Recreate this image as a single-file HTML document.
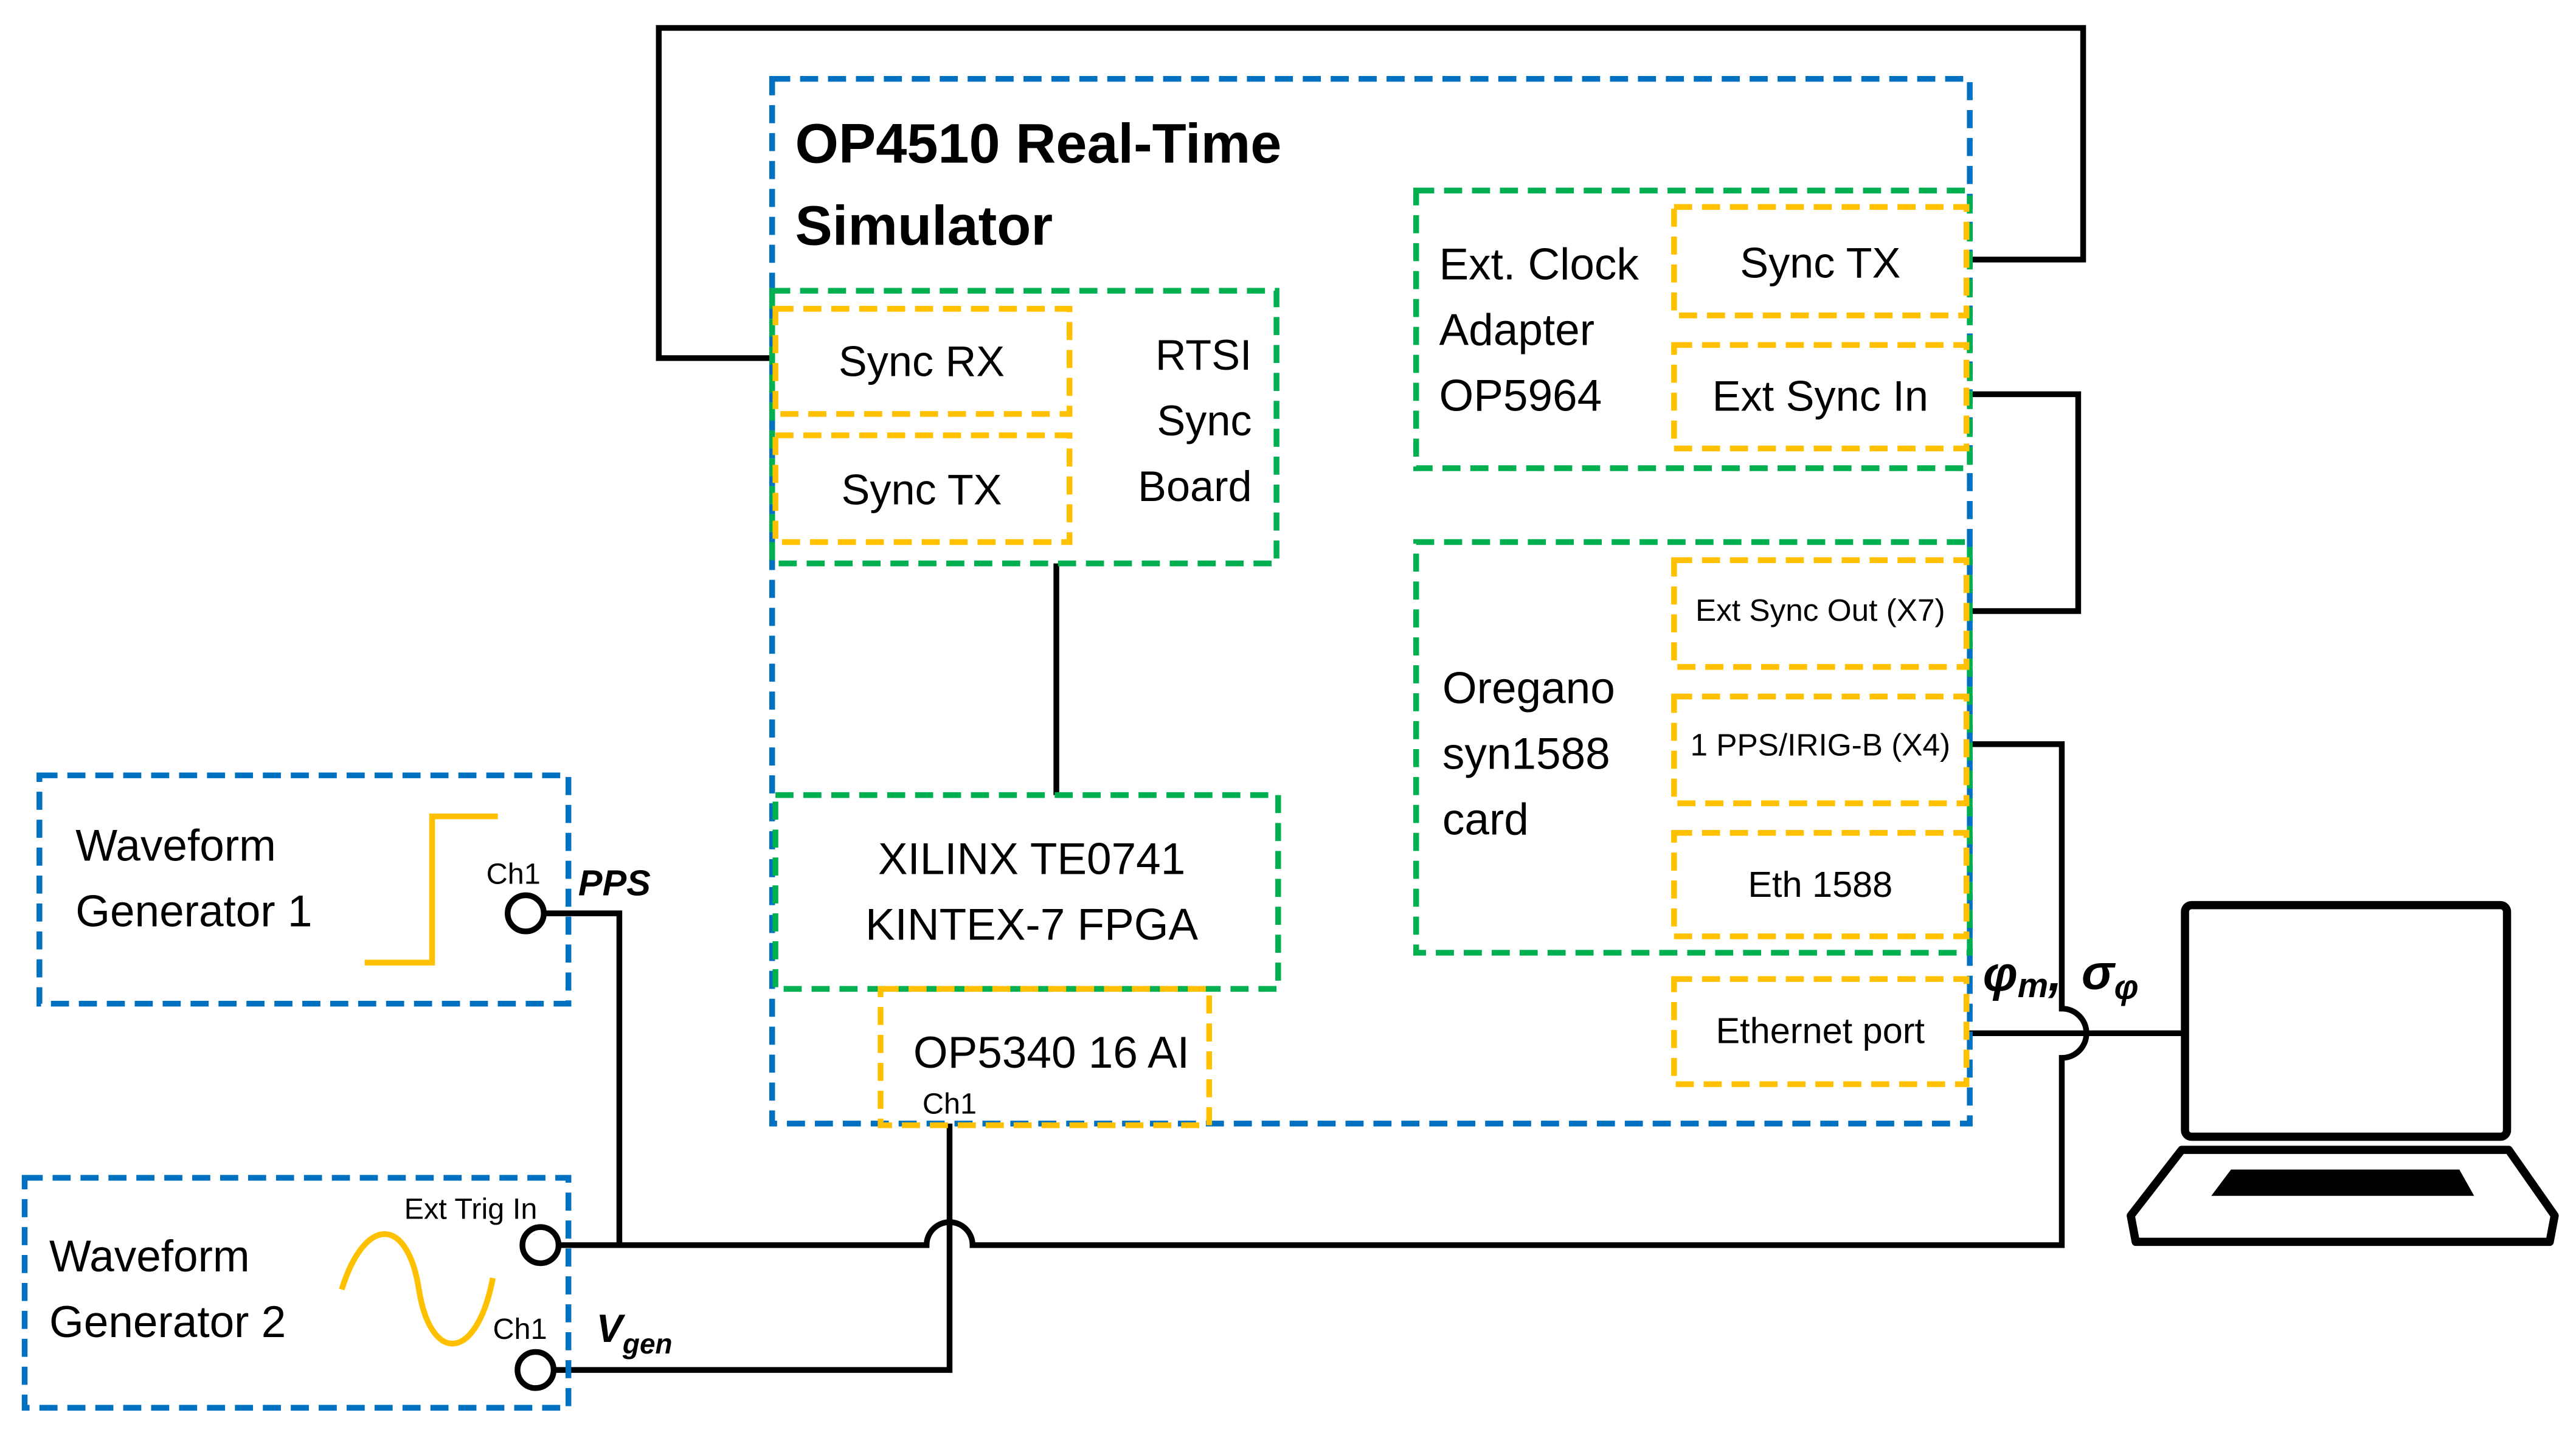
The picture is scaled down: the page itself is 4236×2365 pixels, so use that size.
<!DOCTYPE html>
<html><head><meta charset="utf-8"><style>
html,body{margin:0;padding:0;background:#fff;}
svg{display:block;}
text{font-family:"Liberation Sans",sans-serif;fill:#000;}
</style></head><body>
<svg width="4236" height="2365" viewBox="0 0 1568 875.4" preserveAspectRatio="none" xmlns="http://www.w3.org/2000/svg">
<rect width="1568" height="876" fill="#fff"/>
<g fill="none" stroke="#000" stroke-width="3.5">
<polyline points="470,218 401,218 401,17 1268,17 1268,158 1198,158"/>
<polyline points="1198,240 1265,240 1265,372 1198,372"/>
<line x1="643" y1="343" x2="643" y2="484"/>
<polyline points="320,556 377,556 377,758"/>
<path d="M340,758 L564,758 A14,14 0 0 1 592,758 L1255,758 L1255,644 A15,15 0 0 0 1255,614 L1255,453 L1198,453"/>
<polyline points="337,834 578,834 578,684"/>
<line x1="1198" y1="629" x2="1328" y2="629"/>
</g>
<g fill="none" stroke-width="3.5" stroke-dasharray="11,6">
<rect x="470" y="48" width="729" height="636" stroke="#0070C0"/>
<rect x="24" y="472" width="322" height="139" stroke="#0070C0"/>
<rect x="15" y="717" width="331" height="140" stroke="#0070C0"/>
<rect x="470" y="177" width="307" height="166" stroke="#00B050"/>
<rect x="472" y="484" width="306" height="118" stroke="#00B050"/>
<rect x="862" y="116" width="337" height="169" stroke="#00B050"/>
<rect x="862" y="330" width="337" height="250" stroke="#00B050"/>
<g stroke="#FFC000">
<rect x="472" y="188" width="179" height="64"/>
<rect x="472" y="265" width="179" height="65"/>
<rect x="536" y="602" width="200" height="83"/>
<rect x="1019" y="126" width="178" height="66"/>
<rect x="1019" y="210" width="178" height="63"/>
<rect x="1019" y="341" width="178" height="65"/>
<rect x="1019" y="424" width="178" height="65"/>
<rect x="1019" y="507" width="178" height="63"/>
<rect x="1019" y="596" width="178" height="64"/>
</g>
</g>
<g fill="none" stroke="#FFC000" stroke-width="3.5">
<polyline points="222,586 263,586 263,497 303,497"/>
<path d="M208,785 C222,740 248,740 255,785 C262,830 290,830 300,778"/>
</g>
<g fill="#fff" stroke="#000" stroke-width="3.5">
<circle cx="320" cy="556" r="11"/>
<circle cx="329" cy="758" r="11"/>
<circle cx="326" cy="834" r="11"/>
</g>
<g stroke="#000" stroke-width="5" fill="#fff" stroke-linejoin="round">
<rect x="1330" y="551" width="196" height="141" rx="4"/>
<path d="M1328,700 L1527,700 L1555,740 L1552,756 L1300,756 L1297,740 Z"/>
</g>
<path d="M1358,712 L1497,712 L1506,728 L1346,728 Z" fill="#000"/>
<text x="484" y="99" font-size="34" font-weight="bold">OP4510 Real-Time</text>
<text x="484" y="149" font-size="34" font-weight="bold">Simulator</text>
<g font-size="26">
<text x="561" y="229" text-anchor="middle">Sync RX</text>
<text x="561" y="307" text-anchor="middle">Sync TX</text>
<text x="762" y="225" text-anchor="end">RTSI</text>
<text x="762" y="265" text-anchor="end">Sync</text>
<text x="762" y="305" text-anchor="end">Board</text>
<text x="628" y="532" text-anchor="middle" font-size="27">XILINX TE0741</text>
<text x="628" y="572" text-anchor="middle" font-size="27">KINTEX-7 FPGA</text>
<text x="640" y="650" text-anchor="middle" font-size="27">OP5340 16 AI</text>
<text x="876" y="170" font-size="27">Ext. Clock</text>
<text x="876" y="210" font-size="27">Adapter</text>
<text x="876" y="250" font-size="27">OP5964</text>
<text x="1108" y="169" text-anchor="middle">Sync TX</text>
<text x="1108" y="250" text-anchor="middle">Ext Sync In</text>
<text x="878" y="428" font-size="27">Oregano</text>
<text x="878" y="468" font-size="27">syn1588</text>
<text x="878" y="508" font-size="27">card</text>
<text x="1108" y="546" text-anchor="middle" font-size="22">Eth 1588</text>
<text x="1108" y="635" text-anchor="middle" font-size="22">Ethernet port</text>
<text x="46" y="524" font-size="27">Waveform</text>
<text x="46" y="564" font-size="27">Generator 1</text>
<text x="30" y="774" font-size="27">Waveform</text>
<text x="30" y="814" font-size="27">Generator 2</text>
</g>
<text x="1108" y="378" text-anchor="middle" font-size="19">Ext Sync Out (X7)</text>
<text x="1108" y="460" text-anchor="middle" font-size="19">1 PPS/IRIG-B (X4)</text>
<g font-size="18">
<text x="578" y="678" text-anchor="middle">Ch1</text>
<text x="296" y="538">Ch1</text>
<text x="246" y="742">Ext Trig In</text>
<text x="300" y="815">Ch1</text>
</g>
<text x="352" y="545" font-size="22" font-weight="bold" font-style="italic">PPS</text>
<text x="363" y="817" font-size="24" font-weight="bold" font-style="italic">V<tspan font-size="17" dy="7">gen</tspan></text>
<g font-weight="bold" font-style="italic" style="font-family:'Liberation Serif',serif">
<text x="1207" y="603" font-size="30">φ<tspan font-size="21" dy="4">m</tspan><tspan dy="-4">,</tspan></text>
<text x="1267" y="602" font-size="30">σ<tspan font-size="21" dy="6">φ</tspan></text>
</g>
</svg>
</body></html>
